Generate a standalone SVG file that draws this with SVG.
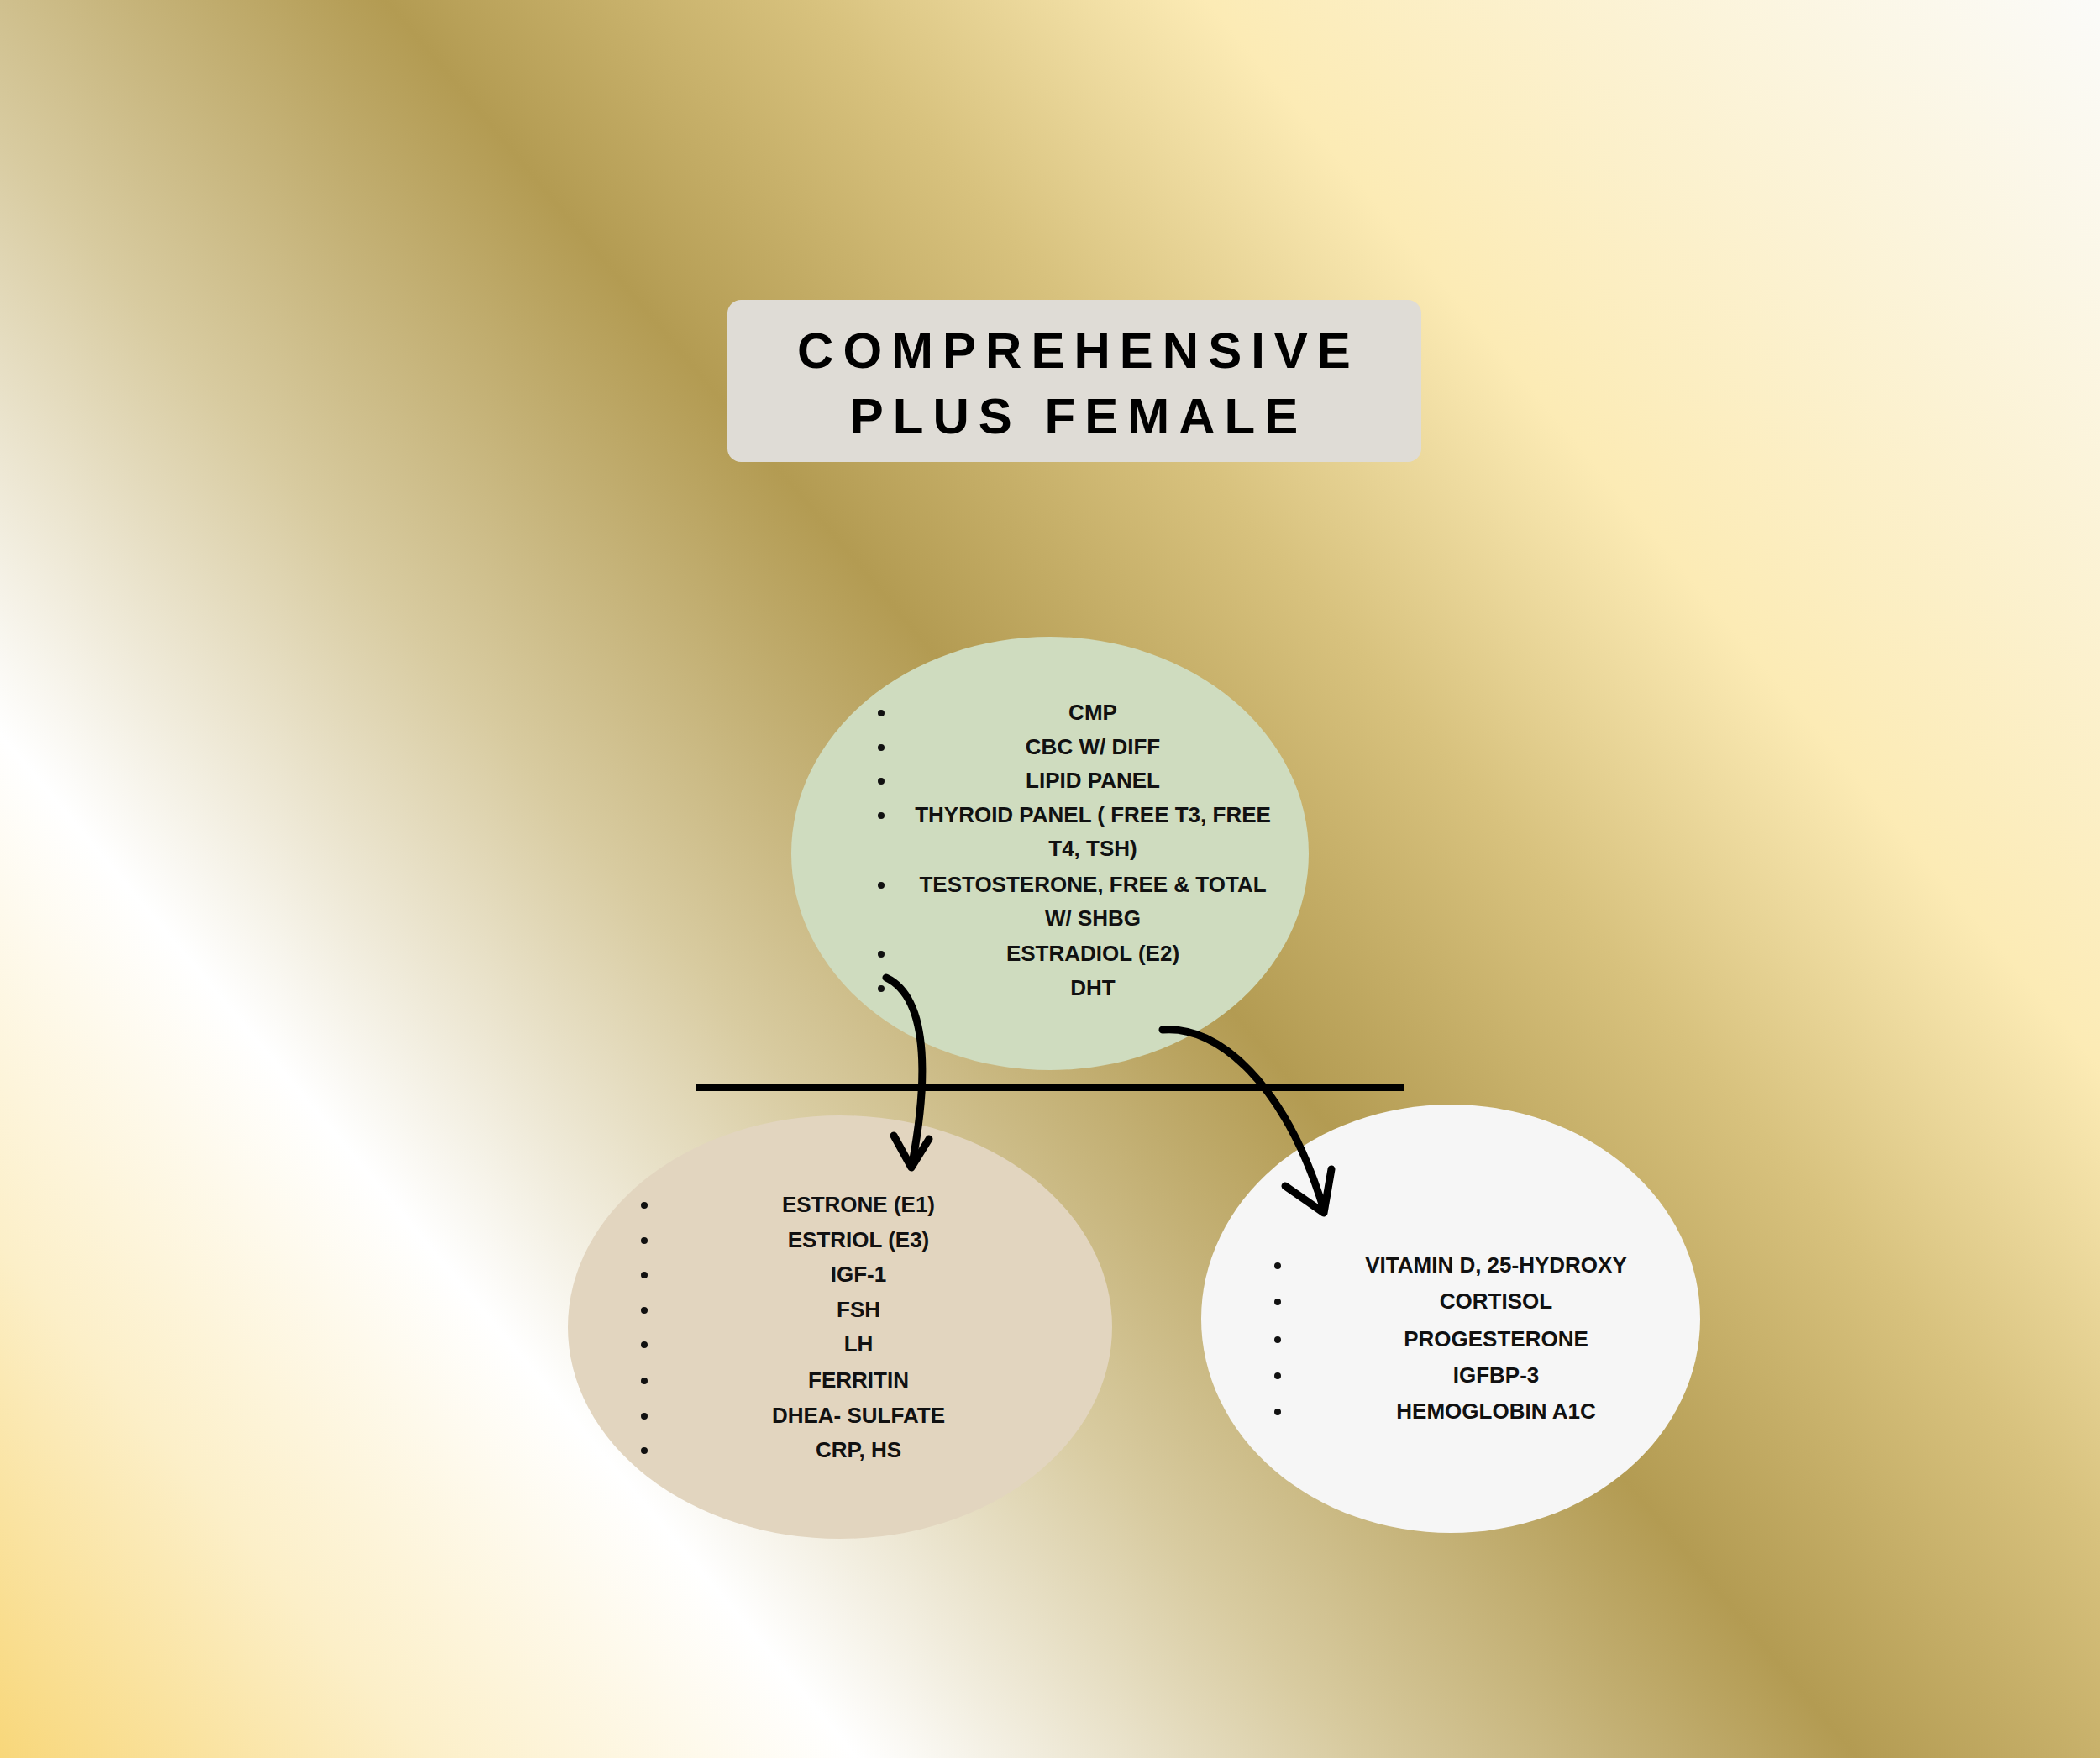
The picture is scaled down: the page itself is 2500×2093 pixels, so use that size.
<svg xmlns="http://www.w3.org/2000/svg" width="2500" height="2093" viewBox="0 0 2500 2093">
<defs>
<linearGradient id="bg" gradientUnits="userSpaceOnUse" x1="0" y1="2093" x2="2500" y2="0">
<stop offset="0" stop-color="#f8d77a"/>
<stop offset="0.12" stop-color="#fcefc8"/>
<stop offset="0.24" stop-color="#ffffff"/>
<stop offset="0.38" stop-color="#d8cba0"/>
<stop offset="0.52" stop-color="#b39b52"/>
<stop offset="0.64" stop-color="#d8c27e"/>
<stop offset="0.75" stop-color="#fcebb5"/>
<stop offset="1" stop-color="#fbfbf9"/>
</linearGradient>
<style>
.t{font-family:"Liberation Sans",Arial,sans-serif;font-weight:900;font-size:60px;letter-spacing:11px;fill:#000;text-anchor:middle}
.b{font-family:"Liberation Sans",Arial,sans-serif;font-weight:bold;font-size:26px;fill:#111;text-anchor:middle}
.d{fill:#111}
.c{fill:none;stroke:#000;stroke-width:9;stroke-linecap:round;stroke-linejoin:round}
</style>
</defs>
<rect width="2500" height="2093" fill="url(#bg)"/>
<g id="title">
<rect x="866" y="357" width="826" height="193" rx="16" fill="#dfdcd6"/>
<text class="t" x="1284" y="438">COMPREHENSIVE</text>
<text class="t" x="1284" y="516">PLUS FEMALE</text>
</g>
<g id="core">
<ellipse cx="1250" cy="1016" rx="308" ry="258" fill="#cfdcbf"/>
<g class="d"><circle cx="1049" cy="849" r="4"/><circle cx="1049" cy="890" r="4"/><circle cx="1049" cy="930" r="4"/><circle cx="1049" cy="971" r="4"/><circle cx="1049" cy="1054" r="4"/><circle cx="1049" cy="1136" r="4"/><circle cx="1049" cy="1177" r="4"/></g>
<text class="b" x="1301" y="857">CMP</text>
<text class="b" x="1301" y="898">CBC W/ DIFF</text>
<text class="b" x="1301" y="938">LIPID PANEL</text>
<text class="b" x="1301" y="979">THYROID PANEL ( FREE T3, FREE</text>
<text class="b" x="1301" y="1019">T4, TSH)</text>
<text class="b" x="1301" y="1062">TESTOSTERONE, FREE &amp; TOTAL</text>
<text class="b" x="1301" y="1102">W/ SHBG</text>
<text class="b" x="1301" y="1144">ESTRADIOL (E2)</text>
<text class="b" x="1301" y="1185">DHT</text>
</g>
<g id="left">
<ellipse cx="1000" cy="1580" rx="324" ry="252" fill="#e2d5bf"/>
<g class="d"><circle cx="767" cy="1435" r="4"/><circle cx="767" cy="1477" r="4"/><circle cx="767" cy="1518" r="4"/><circle cx="767" cy="1560" r="4"/><circle cx="767" cy="1601" r="4"/><circle cx="767" cy="1644" r="4"/><circle cx="767" cy="1686" r="4"/><circle cx="767" cy="1727" r="4"/></g>
<text class="b" x="1022" y="1443">ESTRONE (E1)</text>
<text class="b" x="1022" y="1485">ESTRIOL (E3)</text>
<text class="b" x="1022" y="1526">IGF-1</text>
<text class="b" x="1022" y="1568">FSH</text>
<text class="b" x="1022" y="1609">LH</text>
<text class="b" x="1022" y="1652">FERRITIN</text>
<text class="b" x="1022" y="1694">DHEA- SULFATE</text>
<text class="b" x="1022" y="1735">CRP, HS</text>
</g>
<g id="right">
<ellipse cx="1727" cy="1570" rx="297" ry="255" fill="#f6f6f6"/>
<g class="d"><circle cx="1521" cy="1507" r="4"/><circle cx="1521" cy="1550" r="4"/><circle cx="1521" cy="1595" r="4"/><circle cx="1521" cy="1638" r="4"/><circle cx="1521" cy="1681" r="4"/></g>
<text class="b" x="1781" y="1515">VITAMIN D, 25-HYDROXY</text>
<text class="b" x="1781" y="1558">CORTISOL</text>
<text class="b" x="1781" y="1603">PROGESTERONE</text>
<text class="b" x="1781" y="1646">IGFBP-3</text>
<text class="b" x="1781" y="1689">HEMOGLOBIN A1C</text>
</g>
<g id="connectors">
<line x1="829" y1="1295" x2="1671" y2="1295" stroke="#000" stroke-width="8"/>
<path class="c" d="M1055,1164 C1110,1190 1102,1300 1086,1385"/>
<path class="c" d="M1064,1352 L1085,1390 L1106,1356"/>
<path class="c" d="M1384,1226 C1450,1220 1530,1290 1576,1440"/>
<path class="c" d="M1530,1412 L1576,1444 L1585,1392"/>
</g>
</svg>
